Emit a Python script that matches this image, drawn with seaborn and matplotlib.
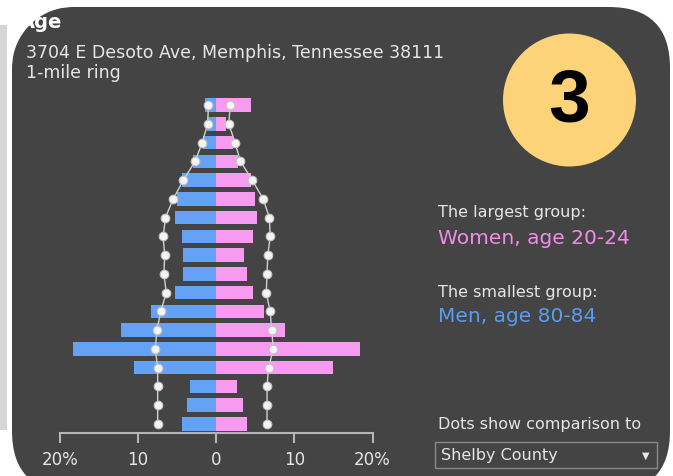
import matplotlib
matplotlib.use("Agg")
import numpy as np
import matplotlib.pyplot as plt
import seaborn as sns
from matplotlib.patches import FancyBboxPatch, Circle, Rectangle, Polygon

# data (percent of population, 1-mile ring vs Shelby County)
ages = ["0-4", "5-9", "10-14", "15-19", "20-24", "25-29", "30-34", "35-39", "40-44",
        "45-49", "50-54", "55-59", "60-64", "65-69", "70-74", "75-79", "80-84", "85+"]
men = [4.4, 3.8, 3.3, 10.5, 18.3, 12.2, 8.3, 5.3, 4.2, 4.3, 4.4, 5.3, 5.0, 4.4, 3.0, 1.7, 1.2, 1.4]
women = [3.9, 3.4, 2.7, 14.9, 18.4, 8.8, 6.1, 4.7, 3.9, 3.6, 4.7, 5.2, 5.0, 4.4, 2.8, 2.2, 1.3, 4.4]
county_men = [7.5, 7.5, 7.5, 7.5, 7.8, 7.6, 7.1, 6.4, 6.7, 6.6, 6.8, 6.5, 5.5, 4.2, 2.7, 1.8, 1.1, 1.0]
county_women = [6.5, 6.5, 6.5, 6.7, 7.3, 7.1, 6.9, 6.4, 6.5, 6.6, 6.9, 6.8, 6.0, 4.6, 3.1, 2.4, 1.6, 1.8]
xticks = [-20, -10, 0, 10, 20]
xticklabels = ["20%", "10", "0", "10", "20%"]

W, H = 673, 476
BG = "#444444"
BLUE = "#64a2f6"
PINK = "#f69bef"
TXT = "#e6e6e6"

sns.set_style("white")
plt.rcParams["font.family"] = ["DejaVu Sans"]

fig = plt.figure(figsize=(W / 100, H / 100), dpi=100, facecolor="white")
inch = fig.dpi_scale_trans  # 1 unit = 100 px


def fx(px):
    return px / W


def fy(py):
    return 1 - py / H


# grey strip at left edge and the dark rounded card (pixel coords / 100)
fig.patches.append(Rectangle((0, (H - 430) / 100), 0.07, 4.05, transform=inch,
                             facecolor="#d6d6d6", edgecolor="none", zorder=-2))
card = FancyBboxPatch((0.12, (H - 492) / 100), 6.58, 4.85,
                      boxstyle="round,pad=0,rounding_size=0.61",
                      transform=inch, facecolor=BG, edgecolor="none", zorder=-1)
fig.patches.append(card)

# pyramid axes
ax = fig.add_axes([fx(60), fy(433.4), fx(372.5) - fx(60), fy(95.6) - fy(433.4)])
ax.set_zorder(2)
ax.set_facecolor("none")
order = ages[::-1]
sns.barplot(x=[-v for v in men], y=ages, order=order, color=BLUE, width=0.72,
            saturation=1, orient="h", linewidth=0, ax=ax)
sns.barplot(x=women, y=ages, order=order, color=PINK, width=0.72,
            saturation=1, orient="h", linewidth=0, ax=ax)

ypos = [order.index(a) for a in ages]
for vals in ([-v for v in county_men], county_women):
    ax.plot(vals, ypos, color="#d0d0d0", lw=1.0, zorder=3)
    ax.plot(vals, ypos, ls="none", marker="o", ms=6.2, mfc="#f4f4f4", mec="#c4c4c4",
            mew=0.8, zorder=4)

ax.set_xlim(-20, 20)
ax.set_ylim(len(ages) - 0.5, -0.5)
ax.set_xticks(xticks)
ax.set_xticklabels(xticklabels, color=TXT, fontsize=12)
ax.tick_params(axis="x", bottom=True, direction="out", length=7, width=1.5,
               color="#b5b5b5", pad=6)
ax.set_yticks([])
ax.set_xlabel("")
ax.set_ylabel("")
for s in ["left", "right", "top"]:
    ax.spines[s].set_visible(False)
ax.spines["bottom"].set_color("#b5b5b5")
ax.spines["bottom"].set_linewidth(1.5)

# header texts
fig.text(fx(20), fy(23), "Age", color="white", fontsize=14, fontweight="bold", va="center")
fig.text(fx(26), fy(53), "3704 E Desoto Ave, Memphis, Tennessee 38111", color=TXT,
         fontsize=12.5, va="center")
fig.text(fx(26), fy(73), "1-mile ring", color=TXT, fontsize=12.5, va="center")

# white mask outside the card's top-left rounded corner (it hides part of the title)
r, cx, cy = 61, 73, 68
th = np.linspace(0, np.pi / 2, 40)
arc = [((cx - r * np.sin(t)) / 100, (H - (cy - r * np.cos(t))) / 100) for t in th]
mask_pts = [(0.07, H / 100), (cx / 100, H / 100)] + arc + [(0.07, (H - cy) / 100)]
fig.patches.append(Polygon(mask_pts, closed=True, transform=inch, facecolor="white",
                           edgecolor="none", zorder=10))
fig.patches.append(Rectangle((0, (H - 68) / 100), 0.07, 0.43, transform=inch,
                             facecolor="#d6d6d6", edgecolor="none", zorder=11))

# side notes
fig.text(fx(438), fy(213), "The largest group:", color=TXT, fontsize=11.5, va="center")
fig.text(fx(438), fy(238), "Women, age 20-24", color="#f28ce9", fontsize=14.5, va="center")
fig.text(fx(438), fy(292), "The smallest group:", color=TXT, fontsize=11.5, va="center")
fig.text(fx(438), fy(316), "Men, age 80-84", color="#5b9cf0", fontsize=14.5, va="center")
fig.text(fx(438), fy(425), "Dots show comparison to", color=TXT, fontsize=11.5, va="center")

# dropdown
fig.patches.append(Rectangle((4.35, (H - 468) / 100), 2.22, 0.26, transform=inch,
                             facecolor=BG, edgecolor="#8a8a8a", lw=1, zorder=1))
fig.text(fx(441), fy(455.5), "Shelby County", color=TXT, fontsize=11.5, va="center")
fig.text(fx(646), fy(455.5), "▼", color=TXT, fontsize=7, va="center", ha="center")

# step badge
fig.patches.append(Circle((5.695, (H - 100) / 100), 0.665, transform=inch,
                          facecolor="#fdd37a", edgecolor="none", zorder=1))
fig.text(fx(569.5), fy(102), "3", color="black", fontsize=54, fontweight="bold",
         family=["Liberation Sans"], ha="center", va="center")

fig.savefig("out.png", dpi=100, facecolor="white")
